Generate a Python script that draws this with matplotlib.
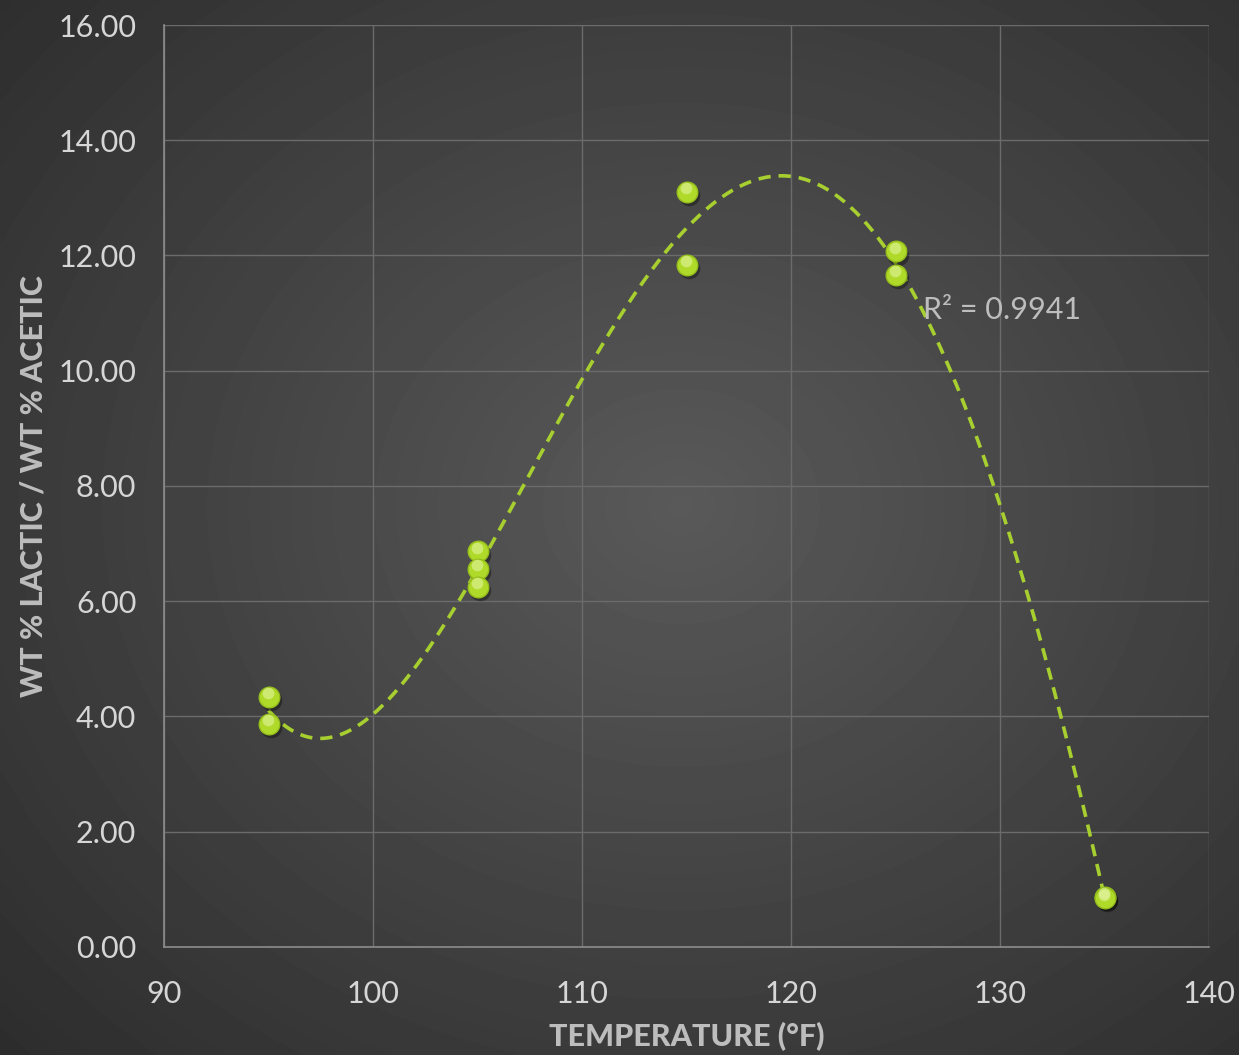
import numpy as np
import matplotlib
matplotlib.use("Agg")
import matplotlib.pyplot as plt
from matplotlib.transforms import offset_copy

plt.rcParams['font.family'] = ['Lato', 'DejaVu Sans']

# data
temperature = [95, 95, 105, 105, 105, 115, 115, 125, 125, 135, 135]
ratio = [4.34, 3.87, 6.87, 6.56, 6.25, 13.11, 11.84, 12.07, 11.67, 0.87, 0.85]
x_ticks = [90, 100, 110, 120, 130, 140]
y_ticks = [0, 2, 4, 6, 8, 10, 12, 14, 16]
r2_label = "R² = 0.9941"

GREEN = "#b0da2a"
LINE_GREEN = "#a8cf30"
TEXT = "#d6d6d6"
LABEL = "#bdbdbd"
GRID = "#6b6b6b"

fig = plt.figure(figsize=(12.39, 10.55), dpi=100)

# radial dark background
bg = fig.add_axes([0, 0, 1, 1], zorder=-10)
yy, xx = np.mgrid[0:1:300j, 0:1:300j]
dist = np.sqrt((xx - 0.55) ** 2 + (yy - 0.48) ** 2)
bg.imshow(0.35 - 0.23 * dist, cmap="gray", vmin=0, vmax=1, aspect="auto",
          extent=[0, 1, 0, 1], interpolation="bilinear")
bg.axis("off")

ax = fig.add_axes([0.1324, 0.1024, 0.8434, 0.8739])
ax.patch.set_alpha(0)

# polynomial trendline (order 4)
coef = np.polyfit(temperature, ratio, 4)
xs = np.linspace(min(temperature), max(temperature), 300)
ax.plot(xs, np.polyval(coef, xs), color=LINE_GREEN, lw=2.6, ls=(0, (3.4, 2.2)), zorder=3)

# glossy markers: shadow, body, highlight
shadow = offset_copy(ax.transData, fig=fig, x=1.5, y=-2.5, units="points")
ax.scatter(temperature, ratio, s=240, color="black", alpha=0.35, lw=0,
           transform=shadow, zorder=4)
ax.scatter(temperature, ratio, s=220, color=GREEN, edgecolor="#94bd1c", lw=1, zorder=5)
hl = offset_copy(ax.transData, fig=fig, x=-0.5, y=2.5, units="points")
ax.scatter(temperature, ratio, s=70, color="#e2f4a0", alpha=0.6, lw=0,
           transform=hl, zorder=6)

ax.text(126.3, 11.05, r2_label, color=LABEL, fontsize=22,
        va="center", ha="left", zorder=7)

ax.set_xlim(90, 140)
ax.set_ylim(0, 16)
ax.set_xticks(x_ticks)
ax.set_yticks(y_ticks)
ax.set_yticklabels([f"{v:.2f}" for v in y_ticks])
ax.tick_params(colors=TEXT, labelsize=22, length=0)
ax.tick_params(axis="x", pad=24)
ax.tick_params(axis="y", pad=20)
ax.grid(True, color=GRID, lw=1)
ax.set_axisbelow(True)
for side in ["top", "right"]:
    ax.spines[side].set_visible(False)
for side in ["left", "bottom"]:
    ax.spines[side].set_color("#8c8c8c")
    ax.spines[side].set_linewidth(1.2)

ax.set_xlabel("TEMPERATURE (°F)", color=LABEL, fontsize=22, fontweight="black", labelpad=10)
ax.set_ylabel("WT % LACTIC / WT % ACETIC", color=LABEL, fontsize=22, fontweight="black", labelpad=8)

fig.savefig("out.png", dpi=100)
